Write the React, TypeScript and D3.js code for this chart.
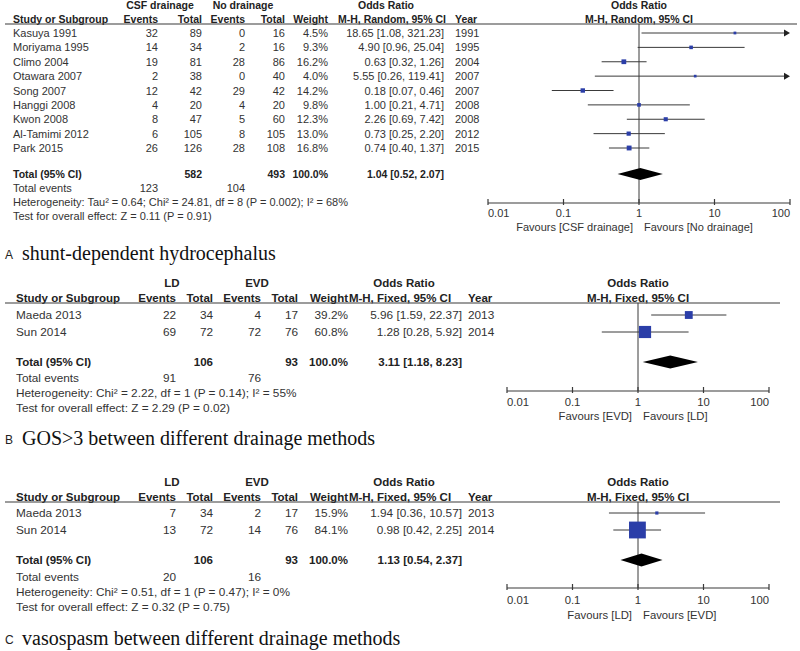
import React from 'react';
import * as d3 from 'd3';

// ---------- Panel A: shunt-dependent hydrocephalus ----------
const studiesA = ['Kasuya 1991', 'Moriyama 1995', 'Climo 2004', 'Otawara 2007', 'Song 2007', 'Hanggi 2008', 'Kwon 2008', 'Al-Tamimi 2012', 'Park 2015'];
const expEventsA = [32, 14, 19, 2, 12, 4, 8, 6, 26];
const expTotalA = [89, 34, 81, 38, 42, 20, 47, 105, 126];
const ctlEventsA = [0, 2, 28, 0, 29, 4, 5, 8, 28];
const ctlTotalA = [16, 16, 86, 40, 42, 20, 60, 105, 108];
const weightsA = [4.5, 9.3, 16.2, 4.0, 14.2, 9.8, 12.3, 13.0, 16.8];
const orA = [18.65, 4.90, 0.63, 5.55, 0.18, 1.00, 2.26, 0.73, 0.74];
const lowA = [1.08, 0.96, 0.32, 0.26, 0.07, 0.21, 0.69, 0.25, 0.40];
const highA = [321.23, 25.04, 1.26, 119.41, 0.46, 4.71, 7.42, 2.20, 1.37];
const yearsA = [1991, 1995, 2004, 2007, 2007, 2008, 2008, 2012, 2015];
const totalsA = [582, 493];
const totalEventsA = [123, 104];
const pooledA = [1.04, 0.52, 2.07];
const groupsA = ['CSF drainage', 'No drainage'];
const methodA = 'M-H, Random, 95% CI';
const hetA = 'Heterogeneity: Tau\u00B2 = 0.64; Chi\u00B2 = 24.81, df = 8 (P = 0.002); I\u00B2 = 68%';
const testA = 'Test for overall effect: Z = 0.11 (P = 0.91)';
const favoursA = ['Favours [CSF drainage]', 'Favours [No drainage]'];
const captionA = ['A', 'shunt-dependent hydrocephalus'];

// ---------- Panel B: GOS>3 ----------
const studiesB = ['Maeda 2013', 'Sun 2014'];
const expEventsB = [22, 69];
const expTotalB = [34, 72];
const ctlEventsB = [4, 72];
const ctlTotalB = [17, 76];
const weightsB = [39.2, 60.8];
const orB = [5.96, 1.28];
const lowB = [1.59, 0.28];
const highB = [22.37, 5.92];
const yearsB = [2013, 2014];
const totalsB = [106, 93];
const totalEventsB = [91, 76];
const pooledB = [3.11, 1.18, 8.23];
const groupsB = ['LD', 'EVD'];
const methodB = 'M-H, Fixed, 95% CI';
const hetB = 'Heterogeneity: Chi\u00B2 = 2.22, df = 1 (P = 0.14); I\u00B2 = 55%';
const testB = 'Test for overall effect: Z = 2.29 (P = 0.02)';
const favoursB = ['Favours [EVD]', 'Favours [LD]'];
const captionB = ['B', 'GOS>3 between different drainage methods'];

// ---------- Panel C: vasospasm ----------
const studiesC = ['Maeda 2013', 'Sun 2014'];
const expEventsC = [7, 13];
const expTotalC = [34, 72];
const ctlEventsC = [2, 14];
const ctlTotalC = [17, 76];
const weightsC = [15.9, 84.1];
const orC = [1.94, 0.98];
const lowC = [0.36, 0.42];
const highC = [10.57, 2.25];
const yearsC = [2013, 2014];
const totalsC = [106, 93];
const totalEventsC = [20, 16];
const pooledC = [1.13, 0.54, 2.37];
const groupsC = ['LD', 'EVD'];
const methodC = 'M-H, Fixed, 95% CI';
const hetC = 'Heterogeneity: Chi\u00B2 = 0.51, df = 1 (P = 0.47); I\u00B2 = 0%';
const testC = 'Test for overall effect: Z = 0.32 (P = 0.75)';
const favoursC = ['Favours [LD]', 'Favours [EVD]'];
const captionC = ['C', 'vasospasm between different drainage methods'];

const axisTicks = [0.01, 0.1, 1, 10, 100];
const axisTickLabels = ['0.01', '0.1', '1', '10', '100'];

const FONT = "'Liberation Sans', Arial, Helvetica, sans-serif";
const SERIF = "'Liberation Serif', 'Times New Roman', serif";
const BLUE = '#2b3ea8';
const INK = '#333333';
const LINE = '#3a3a3a';

type Layout = {
  cStudy: number; cE1: number; cT1: number; cE2: number; cT2: number; cW: number; cOR: number; cYear: number;
  g1: number; g2: number; orHdr: number; orHdr2: number;
  plotX0: number; plotX1: number; ruleX0: number; ruleX1: number;
  hdr1: number; hdr2: number; rule: number; row0: number; row1: number;
  total: number; events: number; het: number; test: number;
  axis: number; tickLbl: number; fav: number; caption: number;
  sizeRange: [number, number]; diamondH: number; fs: number; fsb: number; fsAxis: number;
};

type PanelData = {
  studies: string[]; e1: number[]; t1: number[]; e2: number[]; t2: number[]; w: number[];
  or: number[]; lo: number[]; hi: number[]; years: number[]; totals: number[]; totalEvents: number[];
  pooled: number[]; groups: string[]; method: string; het: string; test: string; favours: string[]; caption: string[];
};

function Panel({ d, L }: { d: PanelData; L: Layout }) {
  const x = d3.scaleLog().domain([0.01, 100]).range([L.plotX0, L.plotX1]);
  const y = d3.scalePoint<string>().domain(d.studies).range([L.row0, L.row1]);
  const size = d3.scaleLinear().domain([0, 100]).range(L.sizeRange);
  const f2 = d3.format('.2f');
  const f1 = d3.format('.1f');
  const xc = (v: number) => Math.max(L.plotX0, Math.min(L.plotX1, x(v)));
  const center = x(1);
  const T = (props: any) => (
    <text fontFamily={FONT} fontSize={L.fs} fill={INK} dominantBaseline="central" {...props} />
  );
  const B = (props: any) => <T fontWeight="bold" fill="#222" fontSize={L.fsb} {...props} />;
  const [po, pl, ph] = d.pooled;
  const dh = L.diamondH / 2;
  const diamond = `M${x(pl)},${L.total} L${x(po)},${L.total - dh} L${x(ph)},${L.total} L${x(po)},${L.total + dh} Z`;
  const ciText = (o: number, l: number, h: number) => `${f2(o)} [${f2(l)}, ${f2(h)}]`;
  return (
    <g>
      {/* headers */}
      <B x={L.g1} y={L.hdr1} textAnchor="middle">{d.groups[0]}</B>
      <B x={L.g2} y={L.hdr1} textAnchor="middle">{d.groups[1]}</B>
      <B x={L.orHdr} y={L.hdr1} textAnchor="middle">Odds Ratio</B>
      <B x={center} y={L.hdr1} textAnchor="middle">Odds Ratio</B>
      <B x={L.cStudy} y={L.hdr2}>Study or Subgroup</B>
      <B x={L.cE1} y={L.hdr2} textAnchor="end">Events</B>
      <B x={L.cT1} y={L.hdr2} textAnchor="end">Total</B>
      <B x={L.cE2} y={L.hdr2} textAnchor="end">Events</B>
      <B x={L.cT2} y={L.hdr2} textAnchor="end">Total</B>
      <B x={L.cW} y={L.hdr2} textAnchor="end">Weight</B>
      <B x={L.orHdr2} y={L.hdr2} textAnchor="middle">{d.method}</B>
      <B x={L.cYear} y={L.hdr2}>Year</B>
      <B x={center} y={L.hdr2} textAnchor="middle">{d.method}</B>
      <line x1={L.ruleX0} x2={L.ruleX1} y1={L.rule} y2={L.rule} stroke={LINE} strokeWidth={1.2} />
      {/* null line */}
      <line x1={center} x2={center} y1={L.rule} y2={L.axis} stroke={LINE} strokeWidth={1} />
      {/* study rows */}
      {d.studies.map((s, i) => {
        const yy = y(s) as number;
        const sz = size(d.w[i]);
        const x0 = xc(d.lo[i]);
        const x1 = xc(d.hi[i]);
        return (
          <g key={s}>
            <T x={L.cStudy} y={yy}>{s}</T>
            <T x={L.cE1} y={yy} textAnchor="end">{d.e1[i]}</T>
            <T x={L.cT1} y={yy} textAnchor="end">{d.t1[i]}</T>
            <T x={L.cE2} y={yy} textAnchor="end">{d.e2[i]}</T>
            <T x={L.cT2} y={yy} textAnchor="end">{d.t2[i]}</T>
            <T x={L.cW} y={yy} textAnchor="end">{f1(d.w[i])}%</T>
            <T x={L.cOR} y={yy} textAnchor="end">{ciText(d.or[i], d.lo[i], d.hi[i])}</T>
            <T x={L.cYear} y={yy}>{d.years[i]}</T>
            <line x1={x0} x2={d.hi[i] > 100 ? x1 - 4 : x1} y1={yy} y2={yy} stroke={LINE} strokeWidth={1} />
            {d.hi[i] > 100 && (
              <path d={`M${x1},${yy} L${x1 - 6},${yy - 3.5} L${x1 - 6},${yy + 3.5} Z`} fill="#222" />
            )}
            <rect x={x(d.or[i]) - sz / 2} y={yy - sz / 2} width={sz} height={sz} fill={BLUE} />
          </g>
        );
      })}
      {/* total */}
      <B x={L.cStudy} y={L.total}>Total (95% CI)</B>
      <B x={L.cT1} y={L.total} textAnchor="end">{d.totals[0]}</B>
      <B x={L.cT2} y={L.total} textAnchor="end">{d.totals[1]}</B>
      <B x={L.cW} y={L.total} textAnchor="end">100.0%</B>
      <B x={L.cOR} y={L.total} textAnchor="end">{ciText(po, pl, ph)}</B>
      <path d={diamond} fill="#000" />
      <T x={L.cStudy} y={L.events}>Total events</T>
      <T x={L.cE1} y={L.events} textAnchor="end">{d.totalEvents[0]}</T>
      <T x={L.cE2} y={L.events} textAnchor="end">{d.totalEvents[1]}</T>
      <T x={L.cStudy} y={L.het}>{d.het}</T>
      <T x={L.cStudy} y={L.test}>{d.test}</T>
      {/* axis */}
      <line x1={L.plotX0} x2={L.plotX1} y1={L.axis} y2={L.axis} stroke={LINE} strokeWidth={1.2} />
      {axisTicks.map((t, i) => (
        <g key={t}>
          <line x1={x(t)} x2={x(t)} y1={L.axis - 4} y2={L.axis + 2} stroke={LINE} strokeWidth={1.2} />
          <T x={x(t)} y={L.tickLbl} fontSize={L.fsAxis} textAnchor={i === 0 ? 'start' : i === axisTicks.length - 1 ? 'end' : 'middle'}>{axisTickLabels[i]}</T>
        </g>
      ))}
      <T x={center - 6} y={L.fav} fontSize={L.fsAxis} textAnchor="end">{d.favours[0]}</T>
      <T x={center + 5} y={L.fav} fontSize={L.fsAxis}>{d.favours[1]}</T>
      {/* caption */}
      <text x={5} y={L.caption + 2} fontFamily={FONT} fontSize={12} fill="#222" dominantBaseline="central">{d.caption[0]}</text>
      <text x={22} y={L.caption} fontFamily={SERIF} fontSize={20} fill="#111" dominantBaseline="central">{d.caption[1]}</text>
    </g>
  );
}

const dataA: PanelData = {
  studies: studiesA, e1: expEventsA, t1: expTotalA, e2: ctlEventsA, t2: ctlTotalA, w: weightsA,
  or: orA, lo: lowA, hi: highA, years: yearsA, totals: totalsA, totalEvents: totalEventsA, pooled: pooledA,
  groups: groupsA, method: methodA, het: hetA, test: testA, favours: favoursA, caption: captionA,
};
const dataB: PanelData = {
  studies: studiesB, e1: expEventsB, t1: expTotalB, e2: ctlEventsB, t2: ctlTotalB, w: weightsB,
  or: orB, lo: lowB, hi: highB, years: yearsB, totals: totalsB, totalEvents: totalEventsB, pooled: pooledB,
  groups: groupsB, method: methodB, het: hetB, test: testB, favours: favoursB, caption: captionB,
};
const dataC: PanelData = {
  studies: studiesC, e1: expEventsC, t1: expTotalC, e2: ctlEventsC, t2: ctlTotalC, w: weightsC,
  or: orC, lo: lowC, hi: highC, years: yearsC, totals: totalsC, totalEvents: totalEventsC, pooled: pooledC,
  groups: groupsC, method: methodC, het: hetC, test: testC, favours: favoursC, caption: captionC,
};

const layoutA: Layout = {
  cStudy: 13, cE1: 158, cT1: 202, cE2: 245, cT2: 285, cW: 328, cOR: 444, cYear: 455,
  g1: 160, g2: 243, orHdr: 386, orHdr2: 392,
  plotX0: 488, plotX1: 790, ruleX0: 5, ruleX1: 797,
  hdr1: 5, hdr2: 19, rule: 24, row0: 33, row1: 148,
  total: 174, events: 188, het: 202, test: 216,
  axis: 203, tickLbl: 213, fav: 227, caption: 253,
  sizeRange: [2, 19], diamondH: 12, fs: 11, fsb: 10.5, fsAxis: 11,
};

const layoutB: Layout = {
  cStudy: 16, cE1: 176, cT1: 213, cE2: 261, cT2: 298, cW: 348, cOR: 462, cYear: 468,
  g1: 172, g2: 257, orHdr: 404, orHdr2: 400,
  plotX0: 507, plotX1: 769, ruleX0: 5, ruleX1: 780,
  hdr1: 283, hdr2: 298, rule: 303, row0: 315, row1: 332,
  total: 362, events: 378, het: 393, test: 408,
  axis: 391, tickLbl: 402, fav: 416, caption: 438,
  sizeRange: [0, 20], diamondH: 13, fs: 11.8, fsb: 11.5, fsAxis: 11.3,
};

const layoutC: Layout = {
  ...layoutB,
  hdr1: 482, hdr2: 497, rule: 502, row0: 513, row1: 530,
  total: 560, events: 577, het: 592, test: 607,
  axis: 588, tickLbl: 600, fav: 615, caption: 638,
};

export default function App() {
  return (
    <svg width={800} height={651} style={{ position: 'absolute', left: 0, top: 0, background: '#fff' }}>
      <rect width={800} height={651} fill="#fff" />
      <Panel d={dataA} L={layoutA} />
      <Panel d={dataB} L={layoutB} />
      <Panel d={dataC} L={layoutC} />
    </svg>
  );
}
